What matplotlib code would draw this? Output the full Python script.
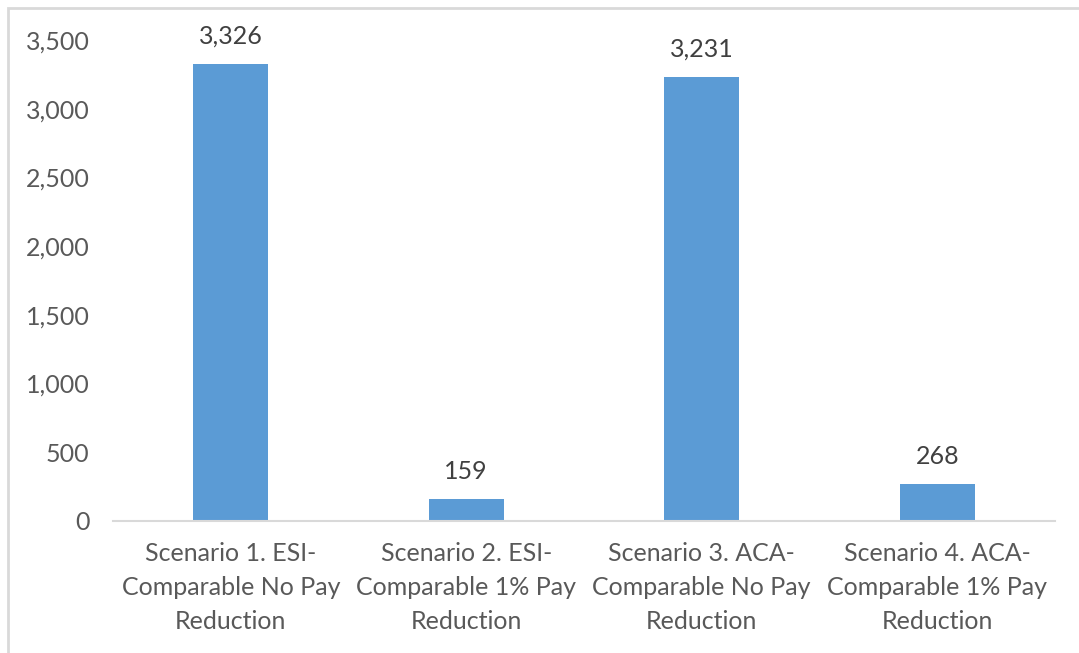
import matplotlib.pyplot as plt
from matplotlib.patches import Rectangle
from matplotlib.ticker import FuncFormatter

# scenario labels and values
scenarios = ["Scenario 1. ESI-\nComparable No Pay\nReduction",
             "Scenario 2. ESI-\nComparable 1% Pay\nReduction",
             "Scenario 3. ACA-\nComparable No Pay\nReduction",
             "Scenario 4. ACA-\nComparable 1% Pay\nReduction"]
values = [3326, 159, 3231, 268]

plt.rcParams['font.family'] = ['Lato', 'DejaVu Sans']
txt = '#595959'

fig = plt.figure(figsize=(10.79, 6.53), dpi=100)
ax = fig.add_axes([113/1079, 1-521/653, (1055-113)/1079, (521-40)/653])

x = range(len(values))
ax.bar(x, values, width=0.32, color='#5B9BD5')
for i, v in enumerate(values):
    ax.text(i, v + 120, f"{v:,}", ha='center', va='bottom', fontsize=18, color='#404040')

ax.set_xlim(-0.5, 3.5)
ax.set_ylim(0, 3500)
ax.set_yticks(range(0, 3501, 500))
ax.yaxis.set_major_formatter(FuncFormatter(lambda v, p: f"{int(v):,}"))
ax.set_xticks(list(x))
ax.set_xticklabels(scenarios, fontsize=18, color=txt, linespacing=1.58)
ax.tick_params(axis='y', length=0, pad=17, labelsize=18, labelcolor=txt)
ax.tick_params(axis='x', length=0, pad=15)
for s in ['top', 'right', 'left']:
    ax.spines[s].set_visible(False)
ax.spines['bottom'].set_color('#D9D9D9')
ax.spines['bottom'].set_linewidth(1.5)

# chart border, cut off at right and bottom
fig.patches.append(Rectangle((8/1079, -0.05), 1.1, 1 - 8/653 + 0.05,
                             transform=fig.transFigure, fill=False,
                             edgecolor='#D9D9D9', linewidth=2))

fig.savefig('out.png', dpi=100)
